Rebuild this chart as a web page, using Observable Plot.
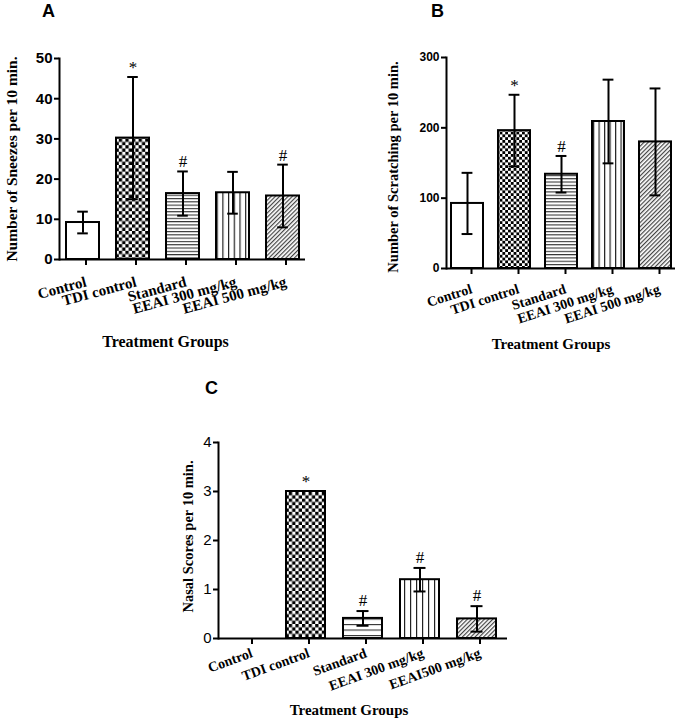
<!DOCTYPE html>
<html><head><meta charset="utf-8">
<script src="https://cdn.jsdelivr.net/npm/d3@7"></script>
<script src="https://cdn.jsdelivr.net/npm/@observablehq/plot@0.6"></script>
<style>
body{margin:0;background:#fff;}
#wrap{position:relative;width:685px;height:722px;background:#fff;overflow:hidden;}
.panel{position:absolute;}
.panel svg{overflow:visible;}
.letter{position:absolute;font-family:"Liberation Sans",Arial,sans-serif;font-weight:bold;font-size:18px;line-height:18px;color:#000;}
</style></head><body>
<div id="wrap">
  <svg width="0" height="0" style="position:absolute">
    <defs id="defs"></defs>
  </svg>
  <div class="letter" style="left:42px;top:2px">A</div>
  <div class="letter" style="left:431px;top:2px">B</div>
  <div class="letter" style="left:205px;top:379px">C</div>
  <div class="panel" id="pa" style="left:0px;top:0px"></div>
  <div class="panel" id="pb" style="left:340px;top:0px"></div>
  <div class="panel" id="pc" style="left:170px;top:360px"></div>
</div>
<script>
// ---------- data ----------
const groupsA = ["Control", "TDI control", "Standard", "EEAI 300 mg/kg", "EEAI 500 mg/kg"];
const sneezeMean = [9.2, 30.2, 16.4, 16.6, 15.8];
const sneezeSD = [2.7, 15.2, 5.5, 5.2, 7.8];
const sneezeNotes = ["", "*", "#", "", "#"];

const groupsB = ["Control", "TDI control", "Standard", "EEAI 300 mg/kg", "EEAI 500 mg/kg"];
const scratchMean = [92.5, 196, 134, 209, 180];
const scratchSD = [43.5, 51, 26, 59.5, 76];
const scratchNotes = ["", "*", "#", "", ""];

const groupsC = ["Control", "TDI control", "Standard", "EEAI 300 mg/kg", "EEAI500 mg/kg"];
const nasalMean = [0, 3.0, 0.41, 1.2, 0.4];
const nasalSD = [0, 0, 0.15, 0.24, 0.26];
const nasalNotes = ["", "*", "#", "#", "#"];

const ticksA = [0, 10, 20, 30, 40, 50];
const ticksB = [0, 100, 200, 300];
const ticksC = [0, 1, 2, 3, 4];

// ---------- fill patterns (style) ----------
function makePatterns(suffix, hSpace, vSpace, cell) {
  const defs = d3.select("#defs");
  const white = (p, w, h) => p.append("rect").attr("width", w).attr("height", h).attr("fill", "#fff");
  let p = defs.append("pattern").attr("id", "open" + suffix).attr("patternUnits", "userSpaceOnUse").attr("width", 4).attr("height", 4);
  white(p, 4, 4);
  p = defs.append("pattern").attr("id", "check" + suffix).attr("patternUnits", "userSpaceOnUse").attr("width", 2 * cell).attr("height", 2 * cell);
  white(p, 2 * cell, 2 * cell);
  p.append("rect").attr("width", cell).attr("height", cell).attr("fill", "#000");
  p.append("rect").attr("x", cell).attr("y", cell).attr("width", cell).attr("height", cell).attr("fill", "#000");
  p = defs.append("pattern").attr("id", "horiz" + suffix).attr("patternUnits", "userSpaceOnUse").attr("width", 6).attr("height", hSpace);
  white(p, 6, hSpace);
  p.append("rect").attr("y", 0).attr("width", 6).attr("height", 1.1).attr("fill", "#333");
  p = defs.append("pattern").attr("id", "vert" + suffix).attr("patternUnits", "userSpaceOnUse").attr("width", vSpace).attr("height", 6);
  white(p, vSpace, 6);
  p.append("rect").attr("x", 0).attr("width", 1.2).attr("height", 6).attr("fill", "#222");
  p = defs.append("pattern").attr("id", "diag" + suffix).attr("patternUnits", "userSpaceOnUse").attr("width", 3).attr("height", 3).attr("patternTransform", "rotate(45)");
  white(p, 3, 3);
  p.append("rect").attr("x", 0).attr("width", 1.2).attr("height", 3).attr("fill", "#444");
  return ["open", "check", "horiz", "vert", "diag"].map(k => `url(#${k}${suffix})`);
}

const serif = "'Liberation Serif','Times New Roman',serif";
const sans = "'Liberation Sans',Arial,sans-serif";

function drawPanel(cfg) {
  const rows = cfg.groups.map((g, i) => ({g, m: cfg.mean[i], s: cfg.sd[i], note: cfg.notes[i], fill: cfg.fills[i]}));
  const n = cfg.groups.length;
  const W = cfg.width - cfg.ml - cfg.mr;
  const step = W / (n - cfg.pi + 2 * cfg.po);
  const bw = step * (1 - cfg.pi);
  const capInset = (bw - cfg.cap) / 2;
  const errRows = rows.filter(d => d.s > 0);
  const chart = Plot.plot({
    width: cfg.width,
    height: cfg.height,
    marginLeft: cfg.ml, marginRight: cfg.mr, marginTop: cfg.mt, marginBottom: cfg.mb,
    style: {color: "#000", background: "transparent", overflow: "visible"},
    x: {type: "band", domain: cfg.groups, paddingInner: cfg.pi, paddingOuter: cfg.po, label: null},
    y: {domain: cfg.yDomain, label: null},
    color: {type: "identity"},
    marks: [
      Plot.barY(rows.filter(d => d.m > 0), {x: "g", y: "m", fill: "fill", stroke: "#000", strokeWidth: 2}),
      Plot.ruleX(errRows, {x: "g", y1: d => d.m - d.s, y2: d => d.m + d.s, stroke: "#000", strokeWidth: 2}),
      Plot.tickY(errRows, {x: "g", y: d => d.m + d.s, stroke: "#000", strokeWidth: 2, insetLeft: capInset, insetRight: capInset}),
      Plot.tickY(errRows, {x: "g", y: d => d.m - d.s, stroke: "#000", strokeWidth: 2, insetLeft: capInset, insetRight: capInset}),
      Plot.text(rows.filter(d => d.note), {x: "g", y: d => d.m + d.s, text: "note", lineAnchor: "bottom", dy: cfg.noteDy, fontFamily: serif, fontSize: 17, fill: "#000"}),
      Plot.ruleY([0], {stroke: "#000", strokeWidth: 2}),
      Plot.frame({anchor: "left", stroke: "#000", strokeWidth: 2}),
      Plot.axisY({ticks: cfg.yTicks, tickFormat: d => String(d), tickSize: 5, tickPadding: 2, strokeWidth: 2, fontSize: cfg.yFont, fontFamily: sans, fontWeight: cfg.yWeight, label: null}),
      Plot.axisX({tickSize: 6, tickPadding: cfg.xPad, dx: cfg.xDx, tickRotate: cfg.rot, strokeWidth: 2, fontSize: cfg.xFont, fontFamily: serif, fontWeight: "bold", label: null}),
      Plot.text([cfg.yLabel], {frameAnchor: "left", textAnchor: "middle", text: d => d, rotate: -90, dx: cfg.yLabDx, dy: cfg.yLabDy, fontFamily: serif, fontWeight: "bold", fontSize: cfg.yLabFont, fill: "#000"}),
      Plot.text(["Treatment Groups"], {frameAnchor: "bottom", textAnchor: "middle", text: d => d, dx: cfg.xLabDx, dy: cfg.xLabDy, fontFamily: serif, fontWeight: "bold", fontSize: cfg.xLabFont, fill: "#000"})
    ]
  });
  document.getElementById(cfg.el).appendChild(chart);
}

drawPanel({
  el: "pa", groups: groupsA, mean: sneezeMean, sd: sneezeSD, notes: sneezeNotes,
  fills: makePatterns("A", 3.3, 5.7, 3.3),
  width: 340, height: 360, ml: 59, mr: 35, mt: 58, mb: 101, pi: 0.34, po: 0.1, cap: 11,
  yDomain: [0, 50], yTicks: ticksA, yFont: 15, yWeight: "bold", xFont: 15, rot: -15, xPad: 16, xDx: 3,
  yLabel: "Number of Sneezes per 10 min.", yLabDx: -47, yLabDy: 0, yLabFont: 15.5,
  xLabDx: -17, xLabDy: 87, xLabFont: 16, noteDy: -4
});
drawPanel({
  el: "pb", groups: groupsB, mean: scratchMean, sd: scratchSD, notes: scratchNotes,
  fills: makePatterns("B", 3.3, 5.5, 2.8),
  width: 345, height: 360, ml: 106, mr: 10, mt: 57, mb: 92, pi: 0.32, po: 0.08, cap: 11,
  yDomain: [0, 300], yTicks: ticksB, yFont: 12, yWeight: "bold", xFont: 14, rot: -18, xPad: 14, xDx: 4,
  yLabel: "Number of Scratching per 10 min.", yLabDx: -53, yLabDy: 4, yLabFont: 14.5,
  xLabDx: -10, xLabDy: 80, xLabFont: 15, noteDy: -4
});
drawPanel({
  el: "pc", groups: groupsC, mean: nasalMean, sd: nasalSD, notes: nasalNotes,
  fills: makePatterns("C", 5.5, 6, 3.3),
  width: 340, height: 362, ml: 48, mr: 3, mt: 82, mb: 84, pi: 0.32, po: 0.18, cap: 12,
  yDomain: [0, 4], yTicks: ticksC, yFont: 15, yWeight: "normal", xFont: 14, rot: -20, xPad: 8, xDx: 3,
  yLabel: "Nasal Scores per 10 min.", yLabDx: -30, yLabDy: -4, yLabFont: 14.5,
  xLabDx: -14, xLabDy: 76, xLabFont: 15, noteDy: -5
});
</script>
</body></html>
